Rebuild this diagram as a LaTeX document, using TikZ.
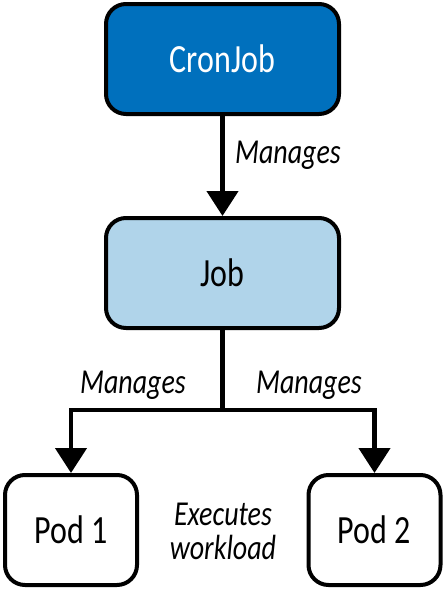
\documentclass[tikz,border=0pt]{standalone}
\usepackage{fontspec}
\setmainfont{Carlito}[FakeStretch=0.8]
\usetikzlibrary{arrows.meta}
\definecolor{cronblue}{HTML}{0070BD}
\definecolor{jobblue}{HTML}{B0D4EA}
\begin{document}
\begin{tikzpicture}[x=1pt,y=-1pt,
    box/.style={draw=black, line width=4pt, rounded corners=20pt, minimum width=233pt, minimum height=110pt, font=\fontsize{40}{42}\selectfont},
    podbox/.style={box, fill=white, minimum width=132pt},
    link/.style={line width=4.5pt, -{Triangle[length=25pt,width=31pt]}},
    lbl/.style={font=\fontsize{35}{34}\selectfont\itshape}]
    \useasboundingbox (0,0) rectangle (446,589);
    %CronJob
    \node[box, fill=cronblue, text=white] (cron) at (222.5,59) {CronJob};
    %Job
    \node[box, fill=jobblue] (job) at (222.5,273) {Job};
    \draw[link] (cron) -- (job);
    \node[lbl] (mgtop) at (288,155) {Manages};
    %Pods
    \node[podbox] (pod1) at (71,530) {Pod 1};
    \node[podbox] (pod2) at (374.5,530) {Pod 2};
    \coordinate (split) at (222.5,410);
    \draw[line width=4.5pt] (job) -- (split);
    \draw[link] (split) -| (pod1);
    \draw[link] (split) -| (pod2);
    \node[lbl] (mgleft) at (133,385) {Manages};
    \node[lbl] (mgright) at (309,385) {Manages};
    \node[lbl, align=center] (exec) at (223,531) {Executes\\workload};
\end{tikzpicture}
\end{document}
